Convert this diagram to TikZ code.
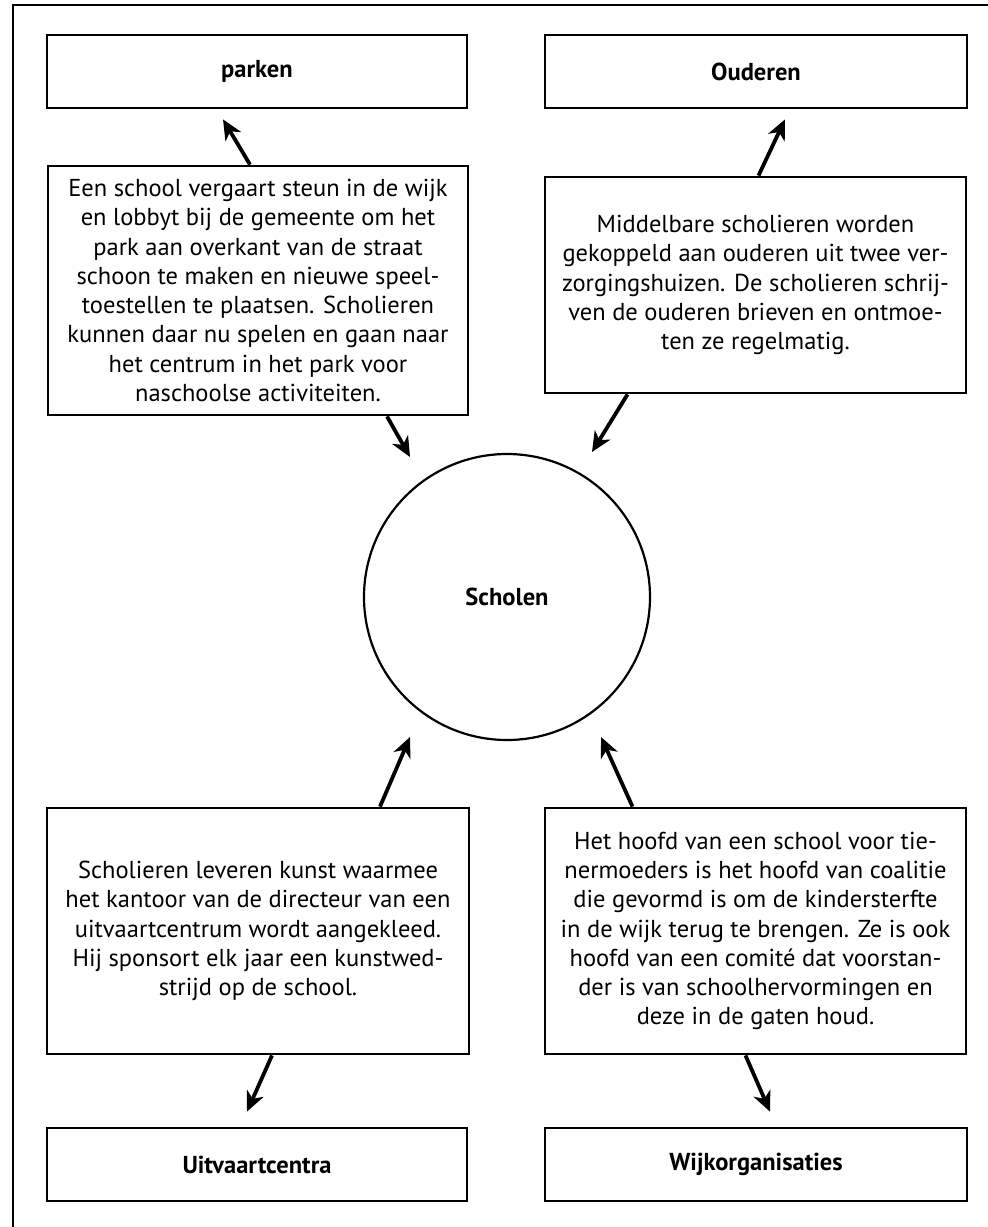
\documentclass[tikz,border=0pt]{standalone}
\usepackage{fontspec}
\setmainfont{PT Sans}
\usetikzlibrary{arrows.meta}

\begin{document}
\begin{tikzpicture}[x=1pt,y=-1pt,
		tekstbox/.style={draw,line width=2.8pt,align=center,inner sep=0pt,font=\fontsize{24.5}{29.3}\selectfont},
		kopbox/.style={draw,line width=2.8pt,inner sep=0pt,minimum height=73pt,font=\fontsize{24.5}{29.3}\selectfont\bfseries},
		pijl/.style={line width=3.8pt,-{Stealth[length=20pt,width=18pt,inset=6pt]}}]
	\useasboundingbox (0,0) rectangle (988,1227);
	\draw[line width=2.8pt] (13,1240) |- (1000,5);

	% bovenste rij
	\node[kopbox,minimum width=420pt] (parken) at (257,71.5) {parken};
	\node[kopbox,minimum width=422pt] (ouderen) at (756,71.5) {Ouderen};
	\node[tekstbox,minimum width=420pt,minimum height=249pt] (parktxt) at (258,290.5) {Een school vergaart steun in de wijk\\en lobbyt bij de gemeente om het\\park aan overkant van de straat\\schoon te maken en nieuwe speel-\\toestellen te plaatsen. Scholieren\\kunnen daar nu spelen en gaan naar\\het centrum in het park voor\\naschoolse activiteiten.};
	\node[tekstbox,minimum width=421pt,minimum height=216pt] (oudtxt) at (755.5,285) {Middelbare scholieren worden\\gekoppeld aan ouderen uit twee ver-\\zorgingshuizen. De scholieren schrij-\\ven de ouderen brieven en ontmoe-\\ten ze regelmatig.};

	% midden
	\node[draw,circle,line width=2.2pt,minimum size=286pt,inner sep=0pt,font=\fontsize{24.5}{29.3}\selectfont\bfseries] (school) at (507,597) {Scholen};

	% onderste rij
	\node[tekstbox,minimum width=422pt,minimum height=246pt] (uitvtxt) at (258,931) {Scholieren leveren kunst waarmee\\het kantoor van de directeur van een\\uitvaartcentrum wordt aangekleed.\\Hij sponsort elk jaar een kunstwed-\\strijd op de school.};
	\node[tekstbox,minimum width=421pt,minimum height=246pt] (wijktxt) at (755.5,931) {Het hoofd van een school voor tie-\\nermoeders is het hoofd van coalitie\\die gevormd is om de kindersterfte\\in de wijk terug te brengen. Ze is ook\\hoofd van een comité dat voorstan-\\der is van schoolhervormingen en\\deze in de gaten houd.};
	\node[kopbox,minimum width=420pt] (uitvaart) at (257,1164.5) {Uitvaartcentra};
	\node[kopbox,minimum width=422pt] (wijk) at (756,1164.5) {Wijkorganisaties};

	% pijlen
	\draw[pijl] ([xshift=-8pt]parktxt.north) -- ([xshift=-34pt,yshift=-10pt]parken.south);
	\draw[pijl] ([xshift=129pt]parktxt.south) -- ([shift={(-97pt,140pt)}]school.center);
	\draw[pijl] ([xshift=3pt]oudtxt.north) -- ([xshift=29pt,yshift=-10pt]ouderen.south);
	\draw[pijl] ([xshift=-128pt]oudtxt.south) -- ([shift={(85pt,145pt)}]school.center);
	\draw[pijl] ([xshift=122pt]uitvtxt.north) -- ([shift={(-97pt,-140pt)}]school.center);
	\draw[pijl] ([xshift=-123pt]wijktxt.north) -- ([shift={(94pt,-140pt)}]school.center);
	\draw[pijl] ([xshift=14pt]uitvtxt.south) -- ([xshift=-10pt,yshift=15pt]uitvaart.north);
	\draw[pijl] ([xshift=-10pt]wijktxt.south) -- ([xshift=14pt,yshift=15pt]wijk.north);
\end{tikzpicture}
\end{document}
